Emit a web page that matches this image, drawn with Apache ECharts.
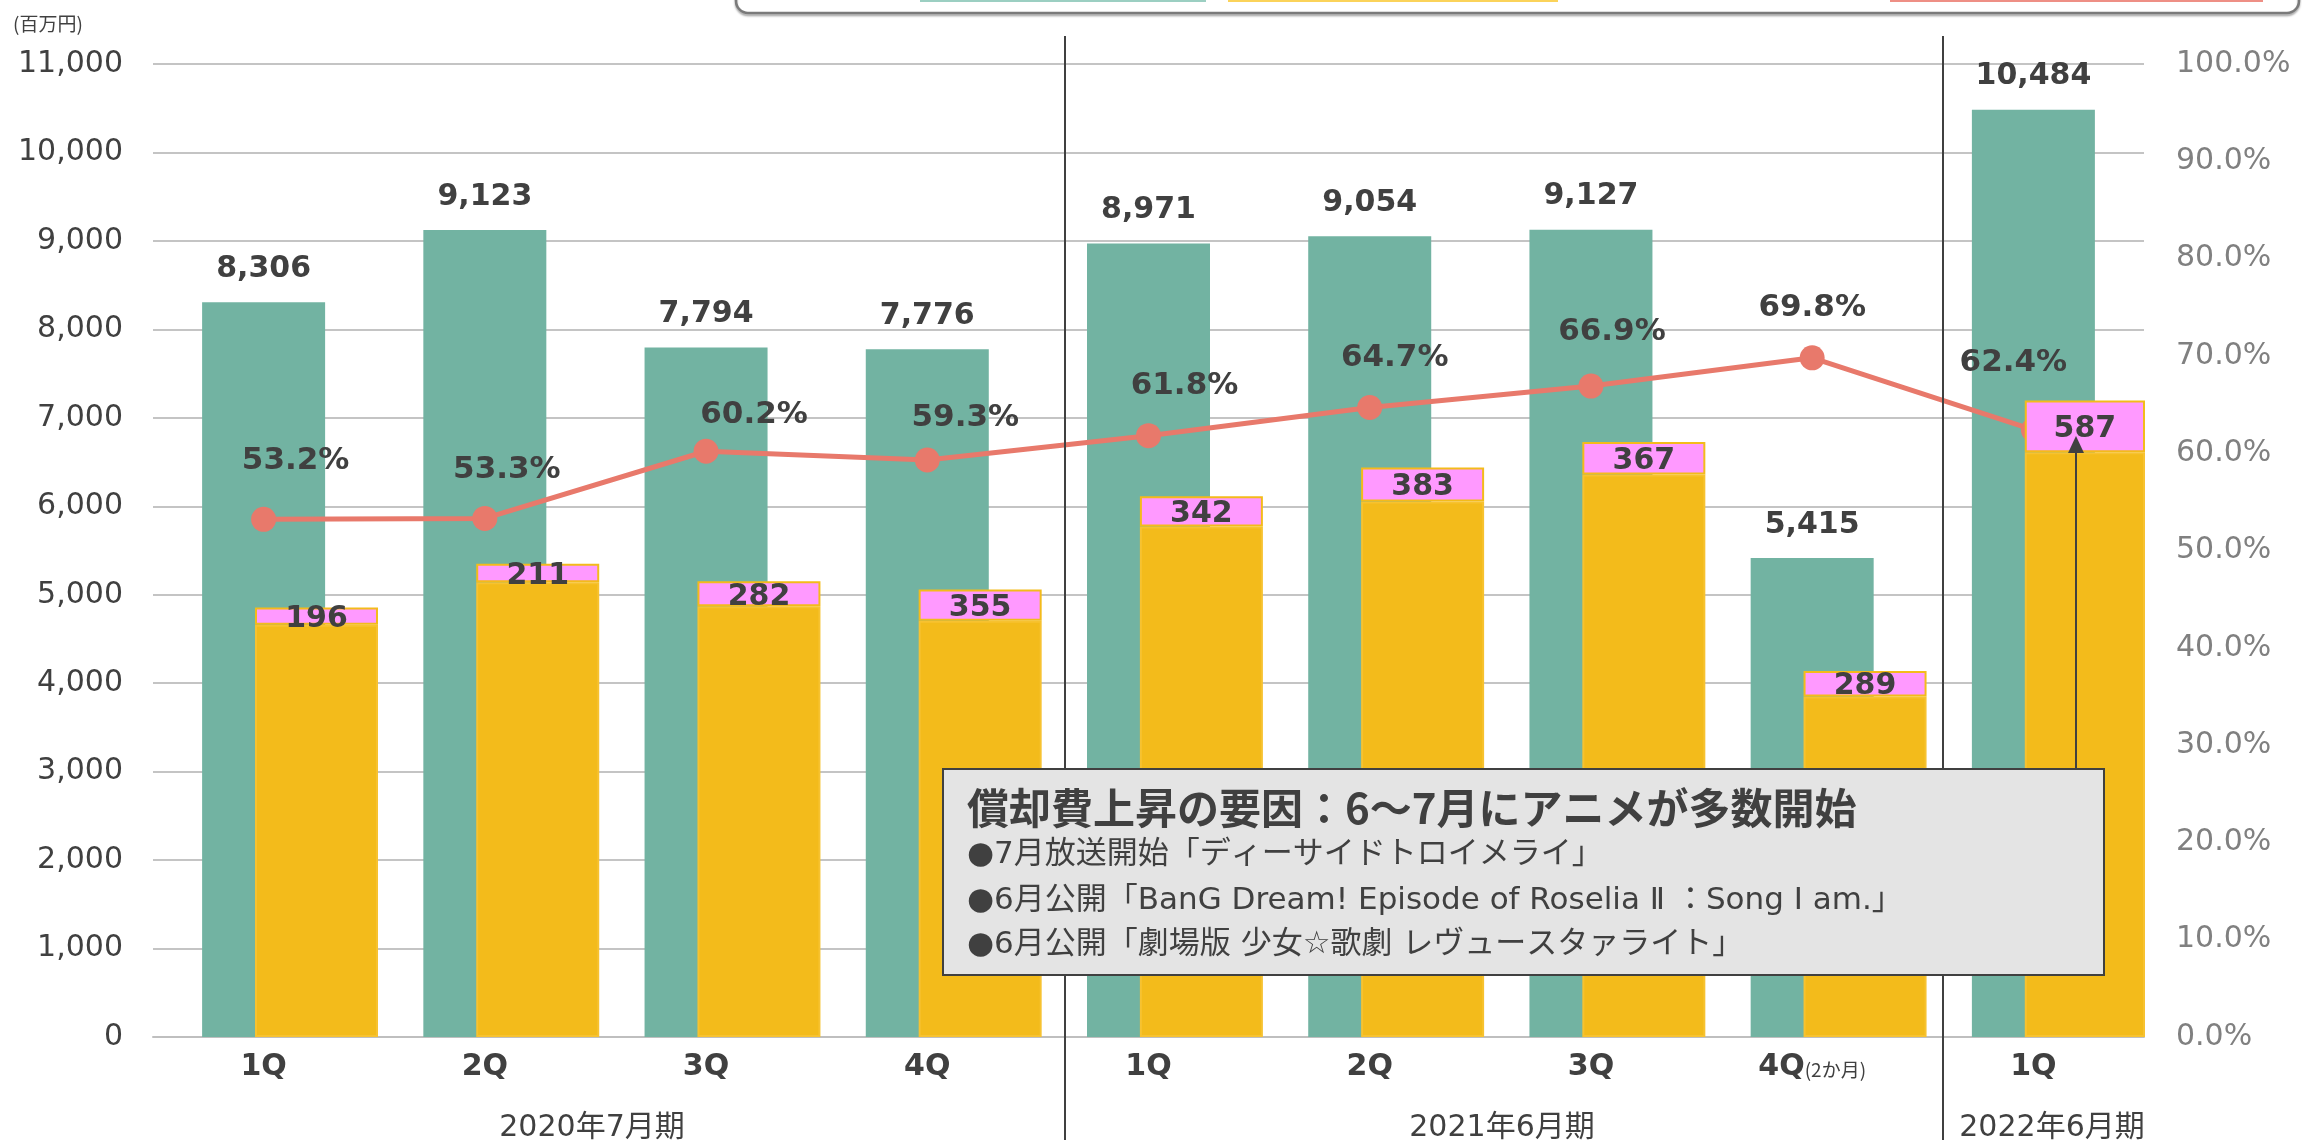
<!DOCTYPE html>
<html>
<head>
<meta charset="utf-8">
<script src="https://cdn.jsdelivr.net/npm/echarts@6/dist/echarts.min.js"></script>
<style>
html, body { margin: 0; padding: 0; background: #fff; }
#main { width: 2302px; height: 1140px; }
</style>
</head>
<body>
<div id="main"></div>
<script>
// 四半期ごとのデータ（単位：百万円、比率は%）
const categories = ['1Q', '2Q', '3Q', '4Q', '1Q', '2Q', '3Q', '4Q(2か月)', '1Q']
const sales = [8306, 9123, 7794, 7776, 8971, 9054, 9127, 5415, 10484]
const costBase = [4660, 5140, 4870, 4705, 5770, 6055, 6360, 3850, 6610]
const amortization = [196, 211, 282, 355, 342, 383, 367, 289, 587]
const costRatio = [53.2, 53.3, 60.2, 59.3, 61.8, 64.7, 66.9, 69.8, 62.4]
const periods = ['2020年7月期', '2021年6月期', '2022年6月期']
const noteTitle = '償却費上昇の要因：6～7月にアニメが多数開始'
const noteLines = [
  '●7月放送開始「ディーサイドトロイメライ」',
  '●6月公開「BanG Dream! Episode of Roselia Ⅱ ：Song Ⅰ am.」',
  '●6月公開「劇場版 少女☆歌劇 レヴュースタァライト」',
]

const TEXT = '#404040'
const NUM_FONT = '"DejaVu Sans", "Noto Sans CJK JP", sans-serif'
const JP_FONT = '"Noto Sans CJK JP", "DejaVu Sans", sans-serif'

// 比率ラベルの位置調整（元資料の手置き）
const ratioLabelOffset = [[32, -58], [22, -48], [48, -36], [38, -42], [36, -50], [25, -50], [21, -54], [0, -50], [-20, -67]]

let myChart = echarts.init(document.getElementById('main'))

function txt(text, x, y, font, color, align) {
  return {
    type: 'text',
    z: 60,
    style: {
      text: text, x: x, y: y, font: font, fill: color || TEXT,
      align: align || 'center', verticalAlign: 'middle',
      textAlign: align || 'center', textVerticalAlign: 'middle',
    },
  }
}

myChart.setOption({
  animation: false,
  grid: { left: 153, right: 158, top: 64, bottom: 103, containLabel: false },
  xAxis: {
    type: 'category',
    data: categories,
    axisTick: { show: false },
    axisLine: { lineStyle: { color: '#bfbfbf', width: 2 } },
    axisLabel: {
      margin: 15,
      formatter: function (v) {
        let i = v.indexOf('(')
        if (i > 0) return '{b|' + v.slice(0, i) + '}{s|' + v.slice(i) + '}'
        return '{b|' + v + '}'
      },
      rich: {
        b: { fontFamily: NUM_FONT, fontWeight: 'bold', fontSize: 30, color: TEXT },
        s: { fontFamily: JP_FONT, fontSize: 19, color: TEXT, padding: [6, 0, 0, 0] },
      },
    },
  },
  yAxis: [
    {
      type: 'value',
      min: 0,
      max: 11000,
      interval: 1000,
      axisLine: { show: false },
      axisTick: { show: false },
      axisLabel: {
        margin: 30,
        fontFamily: NUM_FONT,
        fontSize: 30,
        color: TEXT,
        formatter: function (v) { return v.toLocaleString('en-US') },
      },
      splitLine: { lineStyle: { color: '#c4c4c4', width: 2 } },
    },
    {
      type: 'value',
      min: 0,
      max: 100,
      interval: 10,
      axisLine: { show: false },
      axisTick: { show: false },
      splitLine: { show: false },
      axisLabel: {
        margin: 32,
        fontFamily: NUM_FONT,
        fontSize: 30,
        color: '#808080',
        formatter: function (v) { return v.toFixed(1) + '%' },
      },
    },
  ],
  series: [
    {
      // 位置合わせ用（描画なし）
      name: 'spacer',
      type: 'bar',
      barWidth: 123,
      barGap: '-57%',
      silent: true,
      data: categories.map(() => '-'),
    },
    {
      name: '売上高',
      type: 'bar',
      z: 2,
      barWidth: 123,
      barGap: '-57%',
      itemStyle: { color: '#72b3a2' },
      label: {
        show: true,
        position: 'top',
        distance: 18,
        fontFamily: NUM_FONT,
        fontWeight: 'bold',
        fontSize: 30,
        color: TEXT,
        formatter: function (p) { return p.value.toLocaleString('en-US') },
      },
      data: sales,
    },
    {
      name: '売上原価',
      type: 'bar',
      stack: 'cost',
      z: 4,
      barWidth: 123,
      barGap: '-57%',
      itemStyle: { color: '#f3bb1b', borderColor: '#f7c230', borderWidth: 2 },
      data: costBase,
    },
    {
      name: '償却費',
      type: 'bar',
      stack: 'cost',
      z: 4,
      barWidth: 123,
      barGap: '-57%',
      itemStyle: { color: '#ff99ff', borderColor: '#f3bb1b', borderWidth: 2 },
      label: {
        show: true,
        position: 'inside',
        offset: [0, 3],
        fontFamily: NUM_FONT,
        fontWeight: 'bold',
        fontSize: 30,
        color: TEXT,
      },
      data: amortization,
    },
    {
      name: '原価率',
      type: 'line',
      yAxisIndex: 1,
      z: 3,
      symbol: 'circle',
      symbolSize: 25,
      lineStyle: { color: '#e8796b', width: 5 },
      itemStyle: { color: '#e8796b' },
      label: {
        show: true,
        position: 'inside',
        fontFamily: NUM_FONT,
        fontWeight: 'bold',
        fontSize: 31,
        color: TEXT,
        formatter: function (p) { return p.value.toFixed(1) + '%' },
      },
      data: costRatio.map(function (v, i) {
        return { value: v, label: { offset: ratioLabelOffset[i] } }
      }),
    },
  ],
  graphic: [
    // 上部の凡例枠（見切れ）
    {
      type: 'rect', z: 1,
      shape: { x: 736, y: -40, width: 1563, height: 53, r: 12 },
      style: { fill: 'none', stroke: '#7a7a7a', lineWidth: 2.5, shadowColor: 'rgba(0,0,0,0.35)', shadowBlur: 2, shadowOffsetY: 2 },
    },
    { type: 'rect', z: 1, shape: { x: 920, y: 0, width: 286, height: 2 }, style: { fill: '#9ccfc2' } },
    { type: 'rect', z: 1, shape: { x: 1228, y: 0, width: 330, height: 2 }, style: { fill: '#fbd35a' } },
    { type: 'rect', z: 1, shape: { x: 1890, y: 0, width: 373, height: 2 }, style: { fill: '#ee8f85' } },
    // 単位
    txt('(百万円)', 48, 24, '19px ' + JP_FONT),
    // 期の区切り線
    { type: 'line', z: 5, shape: { x1: 1065, y1: 36, x2: 1065, y2: 1140 }, style: { stroke: '#404040', lineWidth: 2 } },
    { type: 'line', z: 5, shape: { x1: 1943, y1: 36, x2: 1943, y2: 1140 }, style: { stroke: '#404040', lineWidth: 2 } },
    txt(periods[0], 592, 1128, '30px ' + NUM_FONT),
    txt(periods[1], 1502, 1128, '30px ' + NUM_FONT),
    txt(periods[2], 2052, 1128, '30px ' + NUM_FONT),
    // 注記ボックス
    {
      type: 'rect', z: 50,
      shape: { x: 943, y: 769, width: 1161, height: 206 },
      style: { fill: '#e4e4e4', stroke: '#404040', lineWidth: 2 },
    },
    txt(noteTitle, 967, 808, 'bold 42px ' + JP_FONT, TEXT, 'left'),
    txt(noteLines[0], 967, 855, '31px ' + NUM_FONT, TEXT, 'left'),
    txt(noteLines[1], 967, 901, '31px ' + NUM_FONT, TEXT, 'left'),
    txt(noteLines[2], 967, 945, '31px ' + NUM_FONT, TEXT, 'left'),
    // 矢印
    { type: 'line', z: 55, shape: { x1: 2076, y1: 769, x2: 2076, y2: 450 }, style: { stroke: '#404040', lineWidth: 2 } },
    { type: 'polygon', z: 55, shape: { points: [[2076, 436], [2068, 453], [2084, 453]] }, style: { fill: '#404040' } },
  ],
})

window.addEventListener('resize', () => {
  myChart.resize()
})
</script>
</body>
</html>
